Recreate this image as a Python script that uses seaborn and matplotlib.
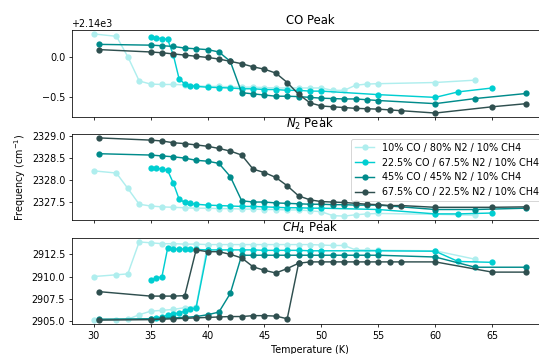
import numpy as np
import matplotlib
matplotlib.use("Agg")
import matplotlib.pyplot as plt
import seaborn as sns

# mixtures, in legend order
labels = ["10% CO / 80% N2 / 10% CH4",
          "22.5% CO / 67.5% N2 / 10% CH4",
          "45% CO / 45% N2 / 10% CH4",
          "67.5% CO / 22.5% N2 / 10% CH4"]
colors = ["paleturquoise", "darkturquoise", "darkcyan", "darkslategray"]

# ---- 10% CO
t10 = [30, 32, 33, 34, 35, 36, 37, 38, 39, 40, 41, 42, 43, 44, 45, 46, 47, 48, 49, 50,
       51, 52, 53, 54, 55, 60, 63.5]
co10 = [2140.30, 2140.27, 2140.01, 2139.70, 2139.66, 2139.655, 2139.655, 2139.65, 2139.64,
        2139.63, 2139.63, 2139.625, 2139.62, 2139.62, 2139.615, 2139.61, 2139.61, 2139.61,
        2139.61, 2139.61, 2139.58, 2139.58, 2139.645, 2139.66, 2139.665, 2139.68, 2139.71]
n2_10 = [2328.21, 2328.16, 2327.81, 2327.45, 2327.41, 2327.39, 2327.38, 2327.37, 2327.36,
         2327.36, 2327.35, 2327.35, 2327.34, 2327.34, 2327.33, 2327.33, 2327.32, 2327.32,
         2327.30, 2327.28, 2327.19, 2327.18, 2327.21, 2327.23, 2327.24, 2327.22, 2327.20]
ch4_10 = [2910.0, 2910.2, 2910.3, 2913.9, 2913.8, 2913.7, 2913.7, 2913.65, 2913.65, 2913.6,
          2913.6, 2913.6, 2913.6, 2913.6, 2913.6, 2913.6, 2913.6, 2913.6, 2913.6, 2913.55,
          2913.5, 2913.5, 2913.0, 2913.0, 2912.95, 2912.9, 2911.95]
t10_low = [30, 32, 33, 34, 35, 36, 37, 38, 39, 40]
ch4_10_low = [2905.1, 2905.15, 2905.2, 2905.7, 2906.1, 2906.2, 2906.3, 2906.5, 2906.6, 2913.6]

# ---- 22.5% CO
t22 = [35, 35.5, 36, 36.5, 37, 37.5, 38, 38.5, 39, 40, 41, 42, 43, 44, 45, 46, 47, 48, 49,
       50, 55, 60, 62, 65]
co22 = [2140.26, 2140.25, 2140.24, 2140.23, 2140.03, 2139.73, 2139.66, 2139.64, 2139.63,
        2139.62, 2139.615, 2139.61, 2139.60, 2139.60, 2139.59, 2139.59, 2139.58, 2139.58,
        2139.57, 2139.57, 2139.525, 2139.49, 2139.56, 2139.61]
n2_22 = [2328.28, 2328.27, 2328.25, 2328.22, 2327.93, 2327.57, 2327.49, 2327.47, 2327.45,
         2327.43, 2327.42, 2327.41, 2327.40, 2327.40, 2327.39, 2327.38, 2327.37, 2327.37,
         2327.36, 2327.36, 2327.33, 2327.23, 2327.23, 2327.25]
ch4_22 = [2909.6, 2909.8, 2910.0, 2913.2, 2913.1, 2913.1, 2913.1, 2913.05, 2913.05, 2913.0,
          2913.0, 2913.0, 2913.0, 2913.0, 2912.95, 2912.95, 2912.95, 2912.95, 2912.9, 2912.9,
          2912.9, 2912.85, 2911.7, 2911.6]
t22_low = [35, 35.5, 36, 36.5, 37, 37.5, 38, 38.5, 39, 40]
ch4_22_low = [2905.2, 2905.3, 2905.4, 2905.7, 2905.8, 2905.9, 2906.1, 2906.3, 2906.5, 2913.0]

# ---- 45% CO
t45 = [30.5, 35, 36, 37, 38, 39, 40, 41, 42, 43, 44, 45, 46, 47, 48, 49, 50, 51, 52, 53,
       54, 55, 60, 63.5, 68]
co45 = [2140.167, 2140.157, 2140.15, 2140.14, 2140.12, 2140.11, 2140.10, 2140.07, 2139.95,
        2139.55, 2139.535, 2139.52, 2139.505, 2139.505, 2139.50, 2139.49, 2139.48, 2139.475,
        2139.47, 2139.47, 2139.46, 2139.45, 2139.41, 2139.475, 2139.54]
n2_45 = [2328.60, 2328.57, 2328.55, 2328.53, 2328.50, 2328.45, 2328.43, 2328.38, 2328.08,
         2327.53, 2327.50, 2327.50, 2327.48, 2327.47, 2327.46, 2327.45, 2327.45, 2327.44,
         2327.44, 2327.43, 2327.43, 2327.43, 2327.33, 2327.33, 2327.36]
ch4_45 = [2905.2, 2905.25, 2905.3, 2905.35, 2905.4, 2905.5, 2905.7, 2906.0, 2908.1, 2912.4,
          2912.4, 2912.4, 2912.4, 2912.4, 2912.4, 2912.4, 2912.4, 2912.4, 2912.4, 2912.4,
          2912.4, 2912.4, 2912.2, 2911.05, 2911.05]

# ---- 67.5% CO
t67 = [30.5, 35, 36, 37, 38, 39, 40, 41, 42, 43, 44, 45, 46, 47, 48, 49, 50, 51, 52, 53,
       54, 55, 56, 57, 60, 65, 68]
co67 = [2140.10, 2140.07, 2140.06, 2140.045, 2140.03, 2140.015, 2140.0, 2139.98, 2139.95,
        2139.92, 2139.88, 2139.85, 2139.80, 2139.68, 2139.53, 2139.42, 2139.38, 2139.37,
        2139.36, 2139.35, 2139.345, 2139.34, 2139.33, 2139.32, 2139.29, 2139.37, 2139.41]
n2_67 = [2328.96, 2328.91, 2328.89, 2328.85, 2328.83, 2328.80, 2328.77, 2328.72, 2328.66,
         2328.57, 2328.25, 2328.17, 2328.06, 2327.87, 2327.64, 2327.55, 2327.51, 2327.50,
         2327.49, 2327.47, 2327.45, 2327.44, 2327.42, 2327.42, 2327.38, 2327.38, 2327.39]
ch4_67 = [2908.3, 2907.8, 2907.8, 2907.8, 2907.85, 2913.0, 2912.8, 2912.8, 2912.5, 2912.1,
          2911.1, 2910.7, 2910.4, 2910.9, 2911.5, 2911.65, 2911.65, 2911.65, 2911.65,
          2911.65, 2911.65, 2911.65, 2911.65, 2911.65, 2911.65, 2910.5, 2910.5]
t67_low = [30.5, 35, 36, 37, 38, 39, 40, 41, 42, 43, 44, 45, 46, 47, 48]
ch4_67_low = [2905.1, 2905.15, 2905.2, 2905.25, 2905.3, 2905.35, 2905.4, 2905.45, 2905.5,
              2905.5, 2905.6, 2905.6, 2905.55, 2905.25, 2911.5]

temps = [t10, t22, t45, t67]
co = [co10, co22, co45, co67]
n2 = [n2_10, n2_22, n2_45, n2_67]
ch4 = [ch4_10, ch4_22, ch4_45, ch4_67]
# second CH4 branch (before it merges with the first one)
ch4_low = [(t10_low, ch4_10_low), (t22_low, ch4_22_low), None, (t67_low, ch4_67_low)]

dpi = 69.5
fig, axes = plt.subplots(3, 1, sharex=True, figsize=(539 / dpi, 354 / dpi), dpi=dpi)
ax1, ax2, ax3 = axes

line_kw = dict(marker="o", markersize=6.5, markeredgewidth=0, linewidth=1.5)

for i in range(4):
    c = colors[i]
    sns.lineplot(x=temps[i], y=co[i], ax=ax1, color=c, **line_kw)
    sns.lineplot(x=temps[i], y=n2[i], ax=ax2, color=c, label=labels[i], **line_kw)
    sns.lineplot(x=temps[i], y=ch4[i], ax=ax3, color=c, **line_kw)
    if ch4_low[i] is not None:
        sns.lineplot(x=ch4_low[i][0], y=ch4_low[i][1], ax=ax3, color=c, **line_kw)

ax1.set_title("CO Peak")
ax2.set_title("$N_2$ Peak")
ax3.set_title("$CH_4$ Peak")
ax2.set_ylabel("Frequency (cm$^{-1}$)")
ax1.set_ylabel("")
ax3.set_ylabel("")
ax3.set_xlabel("Temperature (K)")
ax2.legend(loc="upper right")

# axes run past the right edge of the picture, as in the reference
left, width = 72 / 539, 476 / 539
ax1.set_position([left, 1 - 117 / 354, width, 87 / 354])
ax2.set_position([left, 1 - 220 / 354, width, 86 / 354])
ax3.set_position([left, 1 - 324 / 354, width, 86 / 354])

fig.savefig("out.png", dpi=dpi)
